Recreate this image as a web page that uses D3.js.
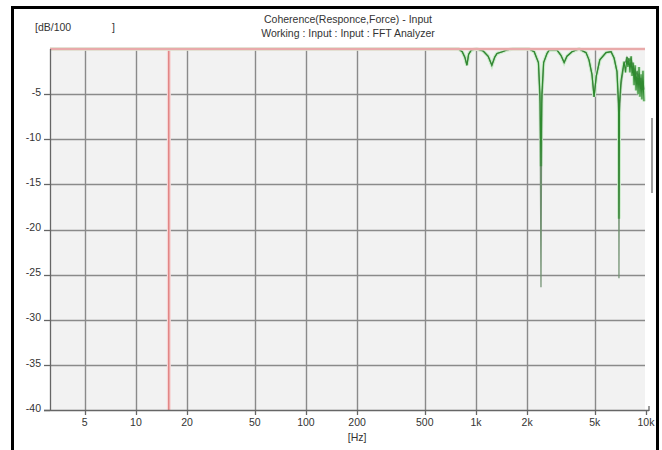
<!DOCTYPE html>
<html>

<head>
	<meta charset="UTF-8" />
	<title>Coherence - Input</title>
	<script src="https://d3js.org/d3.v7.min.js"></script>
	<style>
		body {
			margin: 0;
			background: #fff;
		}

		svg text {
			font-family: "Liberation Sans", Arial, sans-serif;
			fill: #333;
		}
	</style>
</head>

<body>
	<div id="main"></div>

	<script type="text/javascript">
		// frequency points [Hz]
		var freqHz = [3.125, 790, 830, 860, 885, 905, 940, 1010, 1100, 1180, 1240, 1290, 1330, 1430, 1520, 1650,
			2050, 2200, 2330, 2380, 2412, 2440, 2500, 2616, 2700, 2990, 3160, 3300, 3430, 3670, 4040, 4440,
			4620, 4810, 4950, 5100, 5350, 5820, 6230, 6490, 6750, 6900, 6934, 6980, 7130, 7430, 7580, 7730,
			7830, 7940, 8050, 8170, 8280, 8400, 8510, 8620, 8740, 8860, 8980, 9100, 9220, 9350, 9470, 9600,
			9660, 9730];
		// grey-green trace (deeper dips)
		var cohGrey = [0, 0, -0.3, -0.9, -1.8, -0.6, -0.1, 0, -0.2, -0.8, -1.8, -0.9, -0.5, -0.3, -0.1, 0,
			0, -0.3, -1.5, -6, -26.4, -6, -1.5, -0.5, -0.1, -0.1, -0.7, -1.5, -0.8, -0.3, 0, -0.4,
			-1.2, -2.8, -5.3, -3.0, -1.2, -0.4, -0.3, -1.0, -2.5, -7, -25.4, -7, -4.0, -1.6, -1.4, -0.9,
			-1.1, -1.2, -1.3, -1.0, -1.5, -1.8, -2.5, -2.2, -2.8, -2.6, -3.0, -2.8, -3.5, -3.2, -4.0, -3.5,
			-4.0, -4.5];
		// green trace
		var cohGreen = [0, 0, -0.3, -0.9, -1.8, -0.6, -0.1, 0, -0.2, -0.8, -1.8, -0.9, -0.5, -0.3, -0.1, 0,
			0, -0.3, -1.5, -5, -13, -5, -1.5, -0.5, -0.1, -0.1, -0.7, -1.5, -0.8, -0.3, 0, -0.4,
			-1.2, -2.8, -5.3, -3.0, -1.2, -0.4, -0.3, -1.0, -2.5, -6, -18.8, -6, -3.5, -1.4, -2.6, -0.9,
			-2.0, -1.0, -2.6, -0.8, -3.0, -1.5, -4.0, -1.8, -4.6, -2.4, -5.0, -2.0, -5.3, -2.8, -5.6, -2.4,
			-4.2, -5.8];
		var xTicks = [5, 10, 20, 50, 100, 200, 500, 1000, 2000, 5000, 10000];
		var xTickLabels = ['5', '10', '20', '50', '100', '200', '500', '1k', '2k', '5k', '10k'];
		var yTicks = [-5, -10, -15, -20, -25, -30, -35, -40];
		var cursorHz = 15.625;
		var titleLines = ['Coherence(Responce,Force) - Input', 'Working : Input : Input : FFT Analyzer'];

		var width = 662, height = 450;
		var svg = d3.select('#main').append('svg').attr('width', width).attr('height', height);

		var pLeft = 50, pRight = 646, pTop = 49, pBottom = 410;
		var x = d3.scaleLog().domain([3.125, 10000]).range([pLeft, pRight]);
		var y = d3.scaleLinear().domain([-40, 0]).range([pBottom, pTop]);

		// outer frame
		svg.append('rect').attr('x', 12.5).attr('y', 7.5).attr('width', 645).attr('height', 470)
			.attr('fill', 'none').attr('stroke', '#000').attr('stroke-width', 3);

		// plot background
		svg.append('rect').attr('x', pLeft).attr('y', pTop).attr('width', pRight - pLeft - 1).attr('height', pBottom - pTop)
			.attr('fill', '#f2f2f2');

		// grid
		var grid = svg.append('g').attr('stroke', '#8a8a8a').attr('stroke-width', 1.4);
		grid.selectAll('.vg').data(xTicks.slice(0, -1)).enter().append('line')
			.attr('x1', d => Math.round(x(d)) + 0.5).attr('x2', d => Math.round(x(d)) + 0.5)
			.attr('y1', pTop).attr('y2', pBottom);
		grid.selectAll('.hg').data(yTicks.slice(0, -1)).enter().append('line')
			.attr('x1', pLeft).attr('x2', pRight - 1)
			.attr('y1', d => Math.round(y(d)) + 0.5).attr('y2', d => Math.round(y(d)) + 0.5);

		// red cursor
		svg.append('line').attr('x1', x(cursorHz)).attr('x2', x(cursorHz)).attr('y1', pTop).attr('y2', pBottom)
			.attr('stroke', '#f6d6d6').attr('stroke-width', 4);
		svg.append('line').attr('x1', x(cursorHz)).attr('x2', x(cursorHz)).attr('y1', pTop).attr('y2', pBottom)
			.attr('stroke', '#d85c5c').attr('stroke-width', 1);

		// traces
		var line = d3.line().x(d => x(d[0])).y(d => y(d[1]));
		var greyPts = freqHz.map((f, i) => [f, cohGrey[i]]);
		var greenPts = freqHz.map((f, i) => [f, cohGreen[i]]);
		svg.append('path').attr('d', line(greenPts)).attr('fill', 'none')
			.attr('stroke', '#c8ebc8').attr('stroke-width', 3.5);
		svg.append('path').attr('d', line(greyPts)).attr('fill', 'none')
			.attr('stroke', '#6f8f6f').attr('stroke-width', 1.2);
		svg.append('path').attr('d', line(greenPts)).attr('fill', 'none')
			.attr('stroke', '#2f8a2f').attr('stroke-width', 1.2);

		// 0 dB reference line, on top of the traces
		svg.append('line').attr('x1', pLeft).attr('x2', pRight - 1).attr('y1', y(0)).attr('y2', y(0))
			.attr('stroke', '#f4d4d4').attr('stroke-width', 3);
		svg.append('line').attr('x1', pLeft).attr('x2', pRight - 1).attr('y1', y(0)).attr('y2', y(0))
			.attr('stroke', '#dd8080').attr('stroke-width', 1);

		// y axis
		var yAxis = svg.append('g');
		yAxis.append('line').attr('x1', pLeft + 0.5).attr('x2', pLeft + 0.5).attr('y1', pTop).attr('y2', pBottom)
			.attr('stroke', '#666').attr('stroke-width', 1.3);
		yAxis.selectAll('.yt').data(yTicks).enter().append('line')
			.attr('x1', pLeft - 6).attr('x2', pLeft)
			.attr('y1', d => Math.round(y(d)) + 0.5).attr('y2', d => Math.round(y(d)) + 0.5)
			.attr('stroke', '#666').attr('stroke-width', 1.3);
		yAxis.selectAll('text').data(yTicks).enter().append('text')
			.attr('x', pLeft - 9).attr('y', d => y(d) - 2).attr('dy', '0.35em')
			.attr('text-anchor', 'end').attr('font-size', '10.5px').text(d => d);

		// x axis
		var xAxis = svg.append('g');
		xAxis.append('line').attr('x1', pLeft - 6).attr('x2', pRight + 3).attr('y1', pBottom + 0.5).attr('y2', pBottom + 0.5)
			.attr('stroke', '#666').attr('stroke-width', 1.3);
		xAxis.append('line').attr('x1', pRight + 3).attr('x2', pRight + 3).attr('y1', pBottom - 4).attr('y2', pBottom + 1)
			.attr('stroke', '#666').attr('stroke-width', 1.3);
		xAxis.selectAll('.xt').data(xTicks).enter().append('line')
			.attr('x1', d => Math.round(x(d)) + 0.5).attr('x2', d => Math.round(x(d)) + 0.5)
			.attr('y1', pBottom).attr('y2', pBottom + 5)
			.attr('stroke', '#666').attr('stroke-width', 1.3);
		xAxis.selectAll('text').data(xTicks).enter().append('text')
			.attr('x', d => x(d)).attr('y', pBottom + 16)
			.attr('text-anchor', 'middle').attr('font-size', '10.5px')
			.text((d, i) => xTickLabels[i]);
		svg.append('text').attr('x', x(200)).attr('y', pBottom + 31).attr('text-anchor', 'middle')
			.attr('font-size', '10.5px').text('[Hz]');

		// titles
		svg.selectAll('.title').data(titleLines).enter().append('text')
			.attr('x', 348).attr('y', (d, i) => 23 + i * 14).attr('text-anchor', 'middle')
			.attr('font-size', '10.5px').text(d => d);
		svg.append('text').attr('x', 35).attr('y', 31).attr('font-size', '10.5px')
			.style('white-space', 'pre').text('[dB/100              ]');

		// scroll marker at right edge
		svg.append('line').attr('x1', 652).attr('x2', 652).attr('y1', 118).attr('y2', 193)
			.attr('stroke', '#a0a0a0').attr('stroke-width', 2);
	</script>
</body>

</html>
